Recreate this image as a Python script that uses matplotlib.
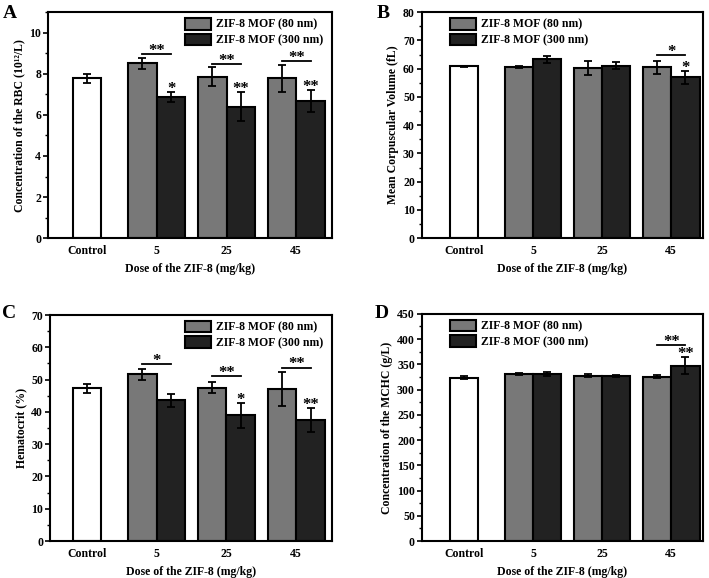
import matplotlib
matplotlib.use('Agg')
import matplotlib.pyplot as plt
import numpy as np
from matplotlib.ticker import MultipleLocator

plt.rcParams['font.family'] = ['Liberation Serif', 'DejaVu Serif']
plt.rcParams['font.weight'] = 'bold'
plt.rcParams['axes.labelweight'] = 'bold'

# groups on the x axis
categorias = ['Control', '5', '25', '45']
etiquetas = ['ZIF-8 MOF (80 nm)', 'ZIF-8 MOF (300 nm)']

# A - RBC
rbc_control, rbc_control_err = 7.77, 0.24
rbc_80 = [8.51, 7.85, 7.77]
rbc_80_err = [0.27, 0.46, 0.67]
rbc_300 = [6.88, 6.40, 6.66]
rbc_300_err = [0.24, 0.70, 0.53]
rbc_par = ['**', '**', '**']
rbc_par_y = [8.98, 8.47, 8.63]
rbc_sig = ['*', '**', '**']

# B - MCV
mcv_control, mcv_control_err = 60.8, 0.3
mcv_80 = [60.5, 60.2, 60.5]
mcv_80_err = [0.3, 2.4, 2.3]
mcv_300 = [63.3, 61.1, 56.9]
mcv_300_err = [1.3, 1.4, 2.2]
mcv_par = [None, None, '*']
mcv_par_y = [None, None, 64.7]
mcv_sig = [None, None, '*']

# C - Hematocrit
hct_control, hct_control_err = 47.3, 1.4
hct_80 = [51.6, 47.5, 47.1]
hct_80_err = [1.65, 1.75, 5.15]
hct_300 = [43.6, 38.9, 37.5]
hct_300_err = [1.95, 3.85, 3.8]
hct_par = ['*', '**', '**']
hct_par_y = [54.7, 51.1, 53.7]
hct_sig = [None, '*', '**']

# D - MCHC
mchc_control, mchc_control_err = 323.0, 3.0
mchc_80 = [331.6, 327.6, 325.6]
mchc_80_err = [2.0, 3.0, 3.0]
mchc_300 = [330.3, 327.0, 347.5]
mchc_300_err = [4.0, 2.0, 17.5]
mchc_par = [None, None, '**']
mchc_par_y = [None, None, 388.5]
mchc_sig = [None, None, '**']

gris = '#787878'
negro = '#222222'
ancho = 0.41


def panel(ax, control, control_err, v80, e80, v300, e300, par, par_y, sig,
          ylim, mayor, menor, ylabel, xlim, leg_loc, leg_anchor):
    x = np.arange(1, 4)
    kw = dict(edgecolor='black', linewidth=1.5,
              error_kw=dict(elinewidth=1.3, capthick=1.3), capsize=3, ecolor='black')
    ax.bar(0, control, ancho, yerr=control_err, color='white', **kw)
    b1 = ax.bar(x - ancho / 2, v80, ancho, yerr=e80, color=gris, label=etiquetas[0], **kw)
    b2 = ax.bar(x + ancho / 2, v300, ancho, yerr=e300, color=negro, label=etiquetas[1], **kw)

    for i in range(3):
        if par[i]:
            ax.plot([x[i] - ancho / 2, x[i] + ancho / 2], [par_y[i], par_y[i]],
                    color='black', lw=1.3)
            ax.annotate(par[i], (x[i], par_y[i]), xytext=(0, -3.5),
                        textcoords='offset points', ha='center', va='bottom',
                        fontsize=12)
        if sig[i]:
            ax.annotate(sig[i], (x[i] + ancho / 2, v300[i] + e300[i]), xytext=(0, -3.5),
                        textcoords='offset points', ha='center', va='bottom',
                        fontsize=12)

    ax.set_xlim(*xlim)
    ax.set_ylim(*ylim)
    ax.set_xticks(range(4))
    ax.set_xticklabels(categorias)
    ax.yaxis.set_major_locator(MultipleLocator(mayor))
    ax.yaxis.set_minor_locator(MultipleLocator(menor))
    ax.tick_params(axis='x', length=0, labelsize=8.5, pad=5)
    ax.tick_params(axis='y', which='major', direction='out', length=3.5, width=1.2, labelsize=8.5, pad=1.5)
    ax.tick_params(axis='y', which='minor', direction='out', length=2, width=1)
    for s in ax.spines.values():
        s.set_linewidth(1.5)
    ax.set_xlabel('Dose of the ZIF-8 (mg/kg)', fontsize=8.5, labelpad=4)
    ax.set_ylabel(ylabel, fontsize=8.5, labelpad=3)
    ax.legend(handles=[b1, b2], loc=leg_loc, bbox_to_anchor=leg_anchor, frameon=False,
              fontsize=8.5, handlelength=2.2, handleheight=1.15, labelspacing=0.25,
              handletextpad=0.4, borderaxespad=0, borderpad=0)


fig = plt.figure(figsize=(7.09, 5.78), dpi=100)
axA = fig.add_axes([0.0677, 0.588, 0.4003, 0.391])
axB = fig.add_axes([0.595, 0.588, 0.3965, 0.391])
axC = fig.add_axes([0.0705, 0.064, 0.3975, 0.391])
axD = fig.add_axes([0.595, 0.064, 0.3965, 0.393])

panel(axA, rbc_control, rbc_control_err, rbc_80, rbc_80_err, rbc_300, rbc_300_err,
      rbc_par, rbc_par_y, rbc_sig, (0, 11), 2, 1,
      'Concentration of the RBC (10¹²/L)', (-0.56, 3.51), 'upper right', (0.97, 0.975))
panel(axB, mcv_control, mcv_control_err, mcv_80, mcv_80_err, mcv_300, mcv_300_err,
      mcv_par, mcv_par_y, mcv_sig, (0, 80), 10, 5,
      'Mean Corpuscular Volume (fL)', (-0.61, 3.46), 'upper left', (0.1, 0.975))
panel(axC, hct_control, hct_control_err, hct_80, hct_80_err, hct_300, hct_300_err,
      hct_par, hct_par_y, hct_sig, (0, 70), 10, 5,
      'Hematocrit (%)', (-0.53, 3.51), 'upper right', (0.97, 0.975))
panel(axD, mchc_control, mchc_control_err, mchc_80, mchc_80_err, mchc_300, mchc_300_err,
      mchc_par, mchc_par_y, mchc_sig, (0, 450), 50, 25,
      'Concentration of the MCHC (g/L)', (-0.61, 3.46), 'upper left', (0.1, 0.975))

for letra, xx, yy in [('A', 0.004, 0.969), ('B', 0.531, 0.969), ('C', 0.003, 0.45), ('D', 0.528, 0.45)]:
    fig.text(xx, yy, letra, fontsize=14, fontweight='bold', va='baseline')

fig.savefig('out.png', dpi=100)
